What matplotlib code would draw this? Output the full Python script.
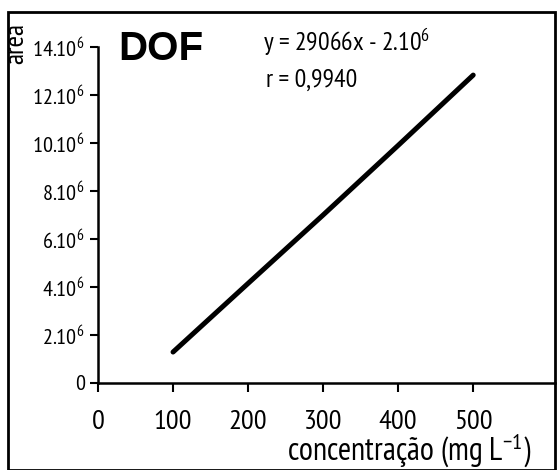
import matplotlib
matplotlib.use("Agg")
import matplotlib.pyplot as plt
from matplotlib.patches import Rectangle

# Data
conc = [100, 200, 300, 400, 500]
area = [1.29e6, 4.15e6, 7.0e6, 9.9e6, 12.83e6]
xticks = [0, 100, 200, 300, 400, 500]
yticks = [0, 2e6, 4e6, 6e6, 8e6, 10e6, 12e6, 14e6]
ytick_labels = ["0", r"2.10$^{6}$", r"4.10$^{6}$", r"6.10$^{6}$", r"8.10$^{6}$",
                r"10.10$^{6}$", r"12.10$^{6}$", r"14.10$^{6}$"]
title = "DOF"
eq_text = r"y = 29066x - 2.10$^{6}$"
r_text = "r = 0,9940"
xlabel = r"concentração (mg L$^{-1}$)"
ylabel = "area"

narrow = ["PT Sans Narrow", "Liberation Sans", "DejaVu Sans"]
plt.rcParams['font.family'] = narrow
plt.rcParams['mathtext.fontset'] = 'custom'
plt.rcParams['mathtext.rm'] = 'PT Sans Narrow'
plt.rcParams['mathtext.it'] = 'PT Sans Narrow'
plt.rcParams['mathtext.default'] = 'regular'

fig = plt.figure(figsize=(5.57, 4.70), dpi=100)
ax = fig.add_axes([98/557, 1-383/470, (555-98)/557, (383-47)/470])

ax.plot(conc, area, color='black', lw=3.6, solid_capstyle='round')

ax.set_xlim(0, 609)
ax.set_ylim(0, 14e6)
ax.set_xticks(xticks)
ax.set_xticklabels([str(v) for v in xticks], fontsize=20.5)
ax.set_yticks(yticks)
ax.set_yticklabels(ytick_labels, fontsize=16)
ax.tick_params(axis='x', direction='out', length=6.5, width=1.5, pad=13)
ax.tick_params(axis='y', direction='out', length=5.5, width=1.5, pad=4)
for s in ['top', 'right']:
    ax.spines[s].set_visible(False)
for s in ['left', 'bottom']:
    ax.spines[s].set_linewidth(1.8)

fig.text(118/557, 1-49/470, title, fontsize=29, fontweight='bold',
         family=['Liberation Sans', 'DejaVu Sans'], va='center', ha='left')
fig.text(263/557, 1-42/470, eq_text, fontsize=18.5, va='center', ha='left')
fig.text(266/557, 1-80/470, r_text, fontsize=18.5, va='center', ha='left')
fig.text(532/557, 1-451/470, xlabel, fontsize=23, va='center', ha='right')
fig.text(16/557, 1-44/470, ylabel, fontsize=20, rotation=90, va='center', ha='center',
         zorder=5)

fig.patches.append(Rectangle((8/557, 0.0), (555-8)/557, (470-12)/470, transform=fig.transFigure,
                             fill=False, edgecolor='black', lw=2, zorder=0))

fig.savefig("out.png", dpi=100)
